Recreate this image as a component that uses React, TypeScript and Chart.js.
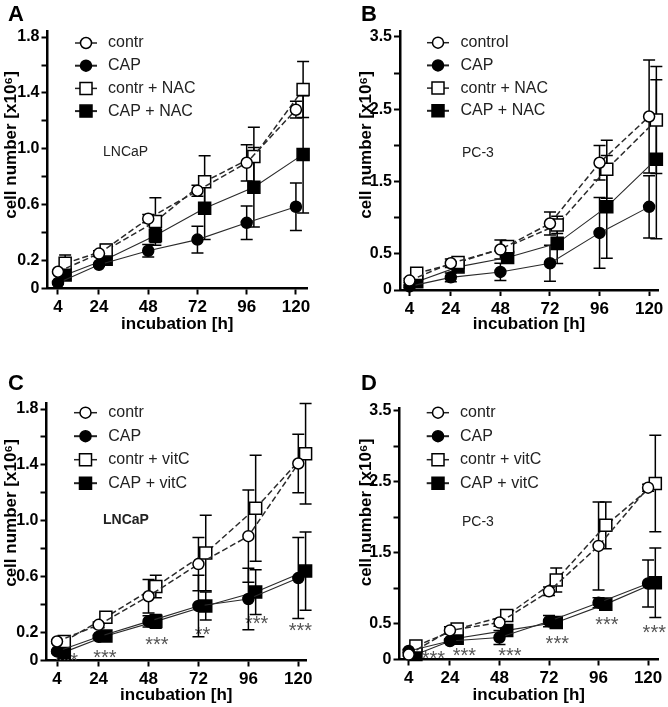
import React, { useEffect, useRef } from 'react';
import { Chart, registerables } from 'chart.js';

Chart.register(...registerables);

// ---------- data ----------
const TIMES = [4, 24, 48, 72, 96, 120];
const X_TICK_LABELS = ['4', '24', '48', '72', '96', '120'];
const Y_LABELS_LNCAP = ['0', '0.2', '0.6', '1.0', '1.4', '1.8'];
const Y_LABELS_PC3 = ['0', '0.5', '1.5', '2.5', '3.5'];

const LEGEND_A = ['contr', 'CAP', 'contr + NAC', 'CAP + NAC'];
const LEGEND_B = ['control', 'CAP', 'contr + NAC', 'CAP + NAC'];
const LEGEND_CD = ['contr', 'CAP', 'contr + vitC', 'CAP + vitC'];

// Panel A – LNCaP, NAC
const A_CONTR = [0.12, 0.25, 0.5, 0.7, 0.9, 1.28];
const A_CONTR_ERR = [0.01, 0.02, 0.03, 0.04, 0.13, 0.06];
const A_CAP = [0.04, 0.17, 0.27, 0.35, 0.47, 0.585];
const A_CAP_ERR = [0.01, 0.01, 0.045, 0.095, 0.12, 0.17];
const A_CONTR_NAC = [0.18, 0.275, 0.48, 0.765, 0.945, 1.425];
const A_CONTR_NAC_ERR = [0.06, 0.04, 0.17, 0.185, 0.21, 0.2];
const A_CAP_NAC = [0.097, 0.21, 0.38, 0.575, 0.725, 0.96];
const A_CAP_NAC_ERR = [0.02, 0.02, 0.05, 0.225, 0.285, 0.42];

// Panel B – PC-3, NAC
const B_CONTR = [0.13, 0.37, 0.56, 0.92, 1.76, 2.4];
const B_CONTR_ERR = [0.03, 0.06, 0.13, 0.16, 0.24, 0.78];
const B_CAP = [0.05, 0.175, 0.25, 0.37, 0.79, 1.15];
const B_CAP_ERR = [0.02, 0.06, 0.12, 0.25, 0.49, 0.43];
const B_CONTR_NAC = [0.23, 0.38, 0.6, 0.9, 1.67, 2.35];
const B_CONTR_NAC_ERR = [0.03, 0.06, 0.08, 0.12, 0.4, 0.74];
const B_CAP_NAC = [0.115, 0.32, 0.45, 0.645, 1.15, 1.81];
const B_CAP_NAC_ERR = [0.02, 0.06, 0.06, 0.28, 0.71, 1.1];

// Panel C – LNCaP, vitC
const C_CONTR = [0.136, 0.255, 0.46, 0.69, 0.89, 1.41];
const C_CONTR_ERR = [0.01, 0.02, 0.12, 0.19, 0.33, 0.21];
const C_CAP = [0.065, 0.17, 0.28, 0.39, 0.44, 0.59];
const C_CAP_ERR = [0.01, 0.01, 0.04, 0.22, 0.22, 0.29];
const C_CONTR_VITC = [0.136, 0.31, 0.53, 0.77, 1.09, 1.48];
const C_CONTR_VITC_ERR = [0.01, 0.02, 0.08, 0.27, 0.38, 0.36];
const C_CAP_VITC = [0.06, 0.175, 0.28, 0.39, 0.49, 0.64];
const C_CAP_VITC_ERR = [0.01, 0.01, 0.05, 0.1, 0.16, 0.28];
const C_SIG = ['***', '***', '***', '**', '***', '***'];
const C_SIG_X = [8.5, 27, 52, 74, 100, 121];
const C_SIG_Y = [0.04, 0.06, 0.15, 0.22, 0.3, 0.25];

// Panel D – PC-3, vitC
const D_CONTR = [0.07, 0.41, 0.52, 0.96, 1.6, 2.42];
const D_CONTR_ERR = [0.02, 0.05, 0.05, 0.06, 0.62, 0.05];
const D_CAP = [0.12, 0.26, 0.31, 0.54, 0.8, 1.07];
const D_CAP_ERR = [0.02, 0.03, 0.1, 0.08, 0.07, 0.33];
const D_CONTR_VITC = [0.19, 0.43, 0.62, 1.12, 1.89, 2.48];
const D_CONTR_VITC_ERR = [0.02, 0.04, 0.08, 0.17, 0.33, 0.68];
const D_CAP_VITC = [0.07, 0.3, 0.41, 0.52, 0.78, 1.08];
const D_CAP_VITC_ERR = [0.02, 0.03, 0.04, 0.04, 0.05, 0.49];
const D_SIG = ['***', '***', '***', '***', '***', '***'];
const D_SIG_X = [16, 31, 53, 76, 100, 123];
const D_SIG_Y = [0.09, 0.13, 0.13, 0.3, 0.57, 0.45];

// ---------- styling / layout ----------
const FONT = '"Liberation Sans", Arial, Helvetica, sans-serif';
const SQUARE_SHIFT = 3.5; // squares are drawn slightly right of their time point
const Y_TITLE = 'cell number [x10\u2076]';
const X_TITLE = 'incubation [h]';

// series style by index: open circle dashed, filled circle solid, open square dashed, filled square solid
const STYLES = [
  { square: false, open: true, dashed: true },
  { square: false, open: false, dashed: false },
  { square: true, open: true, dashed: true },
  { square: true, open: false, dashed: false },
];

const PANELS: any[] = [
  {
    letter: 'A', cell: 'LNCaP', cellBold: false, labels: LEGEND_A,
    values: [A_CONTR, A_CAP, A_CONTR_NAC, A_CAP_NAC],
    errors: [A_CONTR_ERR, A_CAP_ERR, A_CONTR_NAC_ERR, A_CAP_NAC_ERR],
    yLabels: Y_LABELS_LNCAP, yStep: 0.2, yMax: 1.84, xMin: -1.1, xMax: 125.4,
    box: { left: 0, top: 0, width: 334, height: 340 },
    area: { left: 47.5, top: 31.5, right: 307, bottom: 288.5 },
    letterPos: [8, 20.5], yTitle: [11, 145], xTitleY: 324,
    legend: { y: 43, dy: 22.7, x0: 75, x1: 97, xm: 86, xt: 108 },
    cellPos: [103, 152.5],
  },
  {
    letter: 'B', cell: 'PC-3', cellBold: false, labels: LEGEND_B,
    values: [B_CONTR, B_CAP, B_CONTR_NAC, B_CAP_NAC],
    errors: [B_CONTR_ERR, B_CAP_ERR, B_CONTR_NAC_ERR, B_CAP_NAC_ERR],
    yLabels: Y_LABELS_PC3, yStep: 0.5, yMax: 3.573, xMin: -0.6, xMax: 124.3,
    box: { left: 356, top: 0, width: 312, height: 340 },
    area: { left: 400, top: 31.7, right: 659, bottom: 290 },
    letterPos: [361, 20.5], yTitle: [366, 145], xTitleY: 324,
    legend: { y: 42.7, dy: 22.7, x0: 427, x1: 449, xm: 438, xt: 460.5 },
    cellPos: [462, 153.3],
  },
  {
    letter: 'C', cell: 'LNCaP', cellBold: true, labels: LEGEND_CD,
    values: [C_CONTR, C_CAP, C_CONTR_VITC, C_CAP_VITC],
    errors: [C_CONTR_ERR, C_CAP_ERR, C_CONTR_VITC_ERR, C_CAP_VITC_ERR],
    sig: C_SIG, sigX: C_SIG_X, sigY: C_SIG_Y,
    yLabels: Y_LABELS_LNCAP, yStep: 0.2, yMax: 1.841, xMin: -1.05, xMax: 123.7,
    box: { left: 0, top: 340, width: 334, height: 367 },
    area: { left: 46.5, top: 403.3, right: 306, bottom: 660.5 },
    letterPos: [8, 390], yTitle: [11, 513], xTitleY: 695.5,
    legend: { y: 412.7, dy: 23.5, x0: 74, x1: 97, xm: 85.5, xt: 108.3 },
    cellPos: [103, 520],
  },
  {
    letter: 'D', cell: 'PC-3', cellBold: false, labels: LEGEND_CD,
    values: [D_CONTR, D_CAP, D_CONTR_VITC, D_CAP_VITC],
    errors: [D_CONTR_ERR, D_CAP_ERR, D_CONTR_VITC_ERR, D_CAP_VITC_ERR],
    sig: D_SIG, sigX: D_SIG_X, sigY: D_SIG_Y,
    yLabels: Y_LABELS_PC3, yStep: 0.5, yMax: 3.538, xMin: -0.44, xMax: 124.8,
    box: { left: 356, top: 340, width: 312, height: 367 },
    area: { left: 399.5, top: 408.3, right: 659, bottom: 659.5 },
    letterPos: [361, 390], yTitle: [366, 512.5], xTitleY: 695,
    legend: { y: 412.7, dy: 23.5, x0: 426.7, x1: 449, xm: 438, xt: 460 },
    cellPos: [462, 521.7],
  },
];

const CIRCLE_R = 5.5;
const SQUARE_R = 8.5;

function drawMarker(ctx: CanvasRenderingContext2D, st: any, x: number, y: number) {
  ctx.beginPath();
  if (st.square) {
    const h = SQUARE_R * Math.SQRT1_2;
    ctx.rect(x - h, y - h, 2 * h, 2 * h);
  } else {
    ctx.arc(x, y, CIRCLE_R, 0, Math.PI * 2);
  }
  ctx.fillStyle = st.open ? '#fff' : '#000';
  ctx.fill();
  ctx.lineWidth = 1.5;
  ctx.strokeStyle = '#000';
  ctx.stroke();
}

function makeDecor(p: any) {
  return {
    id: 'decor' + p.letter,
    beforeDatasetsDraw(chart: any) {
      const ctx: CanvasRenderingContext2D = chart.ctx;
      const xs = chart.scales.x;
      const ys = chart.scales.y;
      ctx.save();
      if (p.sig) {
        const fs = 20;
        ctx.fillStyle = '#555';
        ctx.font = `${fs}px ${FONT}`;
        ctx.textAlign = 'center';
        ctx.textBaseline = 'alphabetic';
        p.sig.forEach((s: string, j: number) => {
          const x = xs.getPixelForValue(p.sigX[j]);
          const y = ys.getPixelForValue(p.sigY[j]);
          ctx.fillText(s, x, y + fs * 0.58);
        });
      }
      ctx.strokeStyle = '#000';
      ctx.lineWidth = 1.5;
      p.values.forEach((vals: number[], i: number) => {
        const meta = chart.getDatasetMeta(i);
        vals.forEach((v: number, j: number) => {
          const e = p.errors[i][j];
          if (!e) return;
          const x = meta.data[j].x;
          const yt = ys.getPixelForValue(v + e);
          const yb = ys.getPixelForValue(Math.max(0, v - e));
          ctx.beginPath();
          ctx.moveTo(x, yt);
          ctx.lineTo(x, yb);
          ctx.moveTo(x - 6, yt);
          ctx.lineTo(x + 6, yt);
          ctx.moveTo(x - 6, yb);
          ctx.lineTo(x + 6, yb);
          ctx.stroke();
        });
      });
      ctx.restore();
    },
    afterDraw(chart: any) {
      const ctx: CanvasRenderingContext2D = chart.ctx;
      const bx = p.box.left;
      const by = p.box.top;
      const ca = chart.chartArea;
      ctx.save();
      // panel letter
      ctx.fillStyle = '#000';
      ctx.font = `bold 22px ${FONT}`;
      ctx.textAlign = 'left';
      ctx.textBaseline = 'alphabetic';
      ctx.fillText(p.letter, p.letterPos[0] - bx, p.letterPos[1] - by);
      // axis titles
      ctx.font = `bold 17px ${FONT}`;
      ctx.textAlign = 'center';
      ctx.textBaseline = 'middle';
      ctx.fillText(X_TITLE, (ca.left + ca.right) / 2, p.xTitleY - by);
      ctx.save();
      ctx.translate(p.yTitle[0] - bx, p.yTitle[1] - by);
      ctx.rotate(-Math.PI / 2);
      ctx.fillText(Y_TITLE, 0, 0);
      ctx.restore();
      // legend
      const lg = p.legend;
      p.labels.forEach((lab: string, i: number) => {
        const st = STYLES[i];
        const y = lg.y + i * lg.dy - by;
        ctx.beginPath();
        ctx.strokeStyle = '#222';
        ctx.lineWidth = st.dashed ? 1.5 : 2;
        ctx.moveTo(lg.x0 - bx, y);
        ctx.lineTo(lg.x1 - bx, y);
        ctx.stroke();
        drawMarker(ctx, st, lg.xm - bx, y);
        ctx.fillStyle = '#222';
        ctx.font = `16px ${FONT}`;
        ctx.textAlign = 'left';
        ctx.textBaseline = 'middle';
        ctx.fillText(lab, lg.xt - bx, y);
      });
      // cell line label
      ctx.fillStyle = '#222';
      ctx.font = `${p.cellBold ? 'bold ' : ''}14px ${FONT}`;
      ctx.textAlign = 'left';
      ctx.textBaseline = 'middle';
      ctx.fillText(p.cell, p.cellPos[0] - bx, p.cellPos[1] - by);
      ctx.restore();
    },
  };
}

function buildConfig(p: any): any {
  const datasets = p.values.map((vals: number[], i: number) => {
    const st = STYLES[i];
    const shift = st.square ? SQUARE_SHIFT : 0;
    return {
      label: p.labels[i],
      data: vals.map((v, j) => ({ x: TIMES[j] + shift, y: v })),
      borderColor: '#2a2a2a',
      borderWidth: st.dashed ? 1.5 : 1.1,
      borderDash: st.dashed ? [6, 3] : [],
      pointStyle: st.square ? 'rect' : 'circle',
      pointRadius: st.square ? SQUARE_R : CIRCLE_R,
      pointBackgroundColor: st.open ? '#fff' : '#000',
      pointBorderColor: '#000',
      pointBorderWidth: 1.5,
      tension: 0,
      fill: false,
      clip: false,
    };
  });
  const yTicks: number[] = [];
  for (let k = 0; k * p.yStep <= p.yMax + 1e-9; k++) yTicks.push(Math.round(k * p.yStep * 1000) / 1000);
  const yWidth = p.area.left - p.box.left;
  const xHeight = p.box.top + p.box.height - p.area.bottom;
  return {
    type: 'line',
    data: { datasets },
    options: {
      responsive: false,
      animation: false,
      events: [],
      layout: {
        padding: {
          left: 0,
          top: p.area.top - p.box.top,
          right: p.box.left + p.box.width - p.area.right,
          bottom: 0,
        },
      },
      plugins: { legend: { display: false }, tooltip: { enabled: false }, title: { display: false } },
      scales: {
        x: {
          type: 'linear',
          min: p.xMin,
          max: p.xMax,
          bounds: 'data',
          afterBuildTicks: (s: any) => { s.ticks = TIMES.map((v) => ({ value: v })); },
          afterFit: (s: any) => { s.height = xHeight; },
          ticks: {
            autoSkip: false,
            maxRotation: 0,
            padding: 3,
            color: '#000',
            font: { family: FONT, size: 17, weight: 'bold' },
            callback: (_v: any, i: number) => X_TICK_LABELS[i],
          },
          grid: { display: true, drawOnChartArea: false, drawTicks: true, tickLength: 6, tickWidth: 2, tickColor: '#000' },
          border: { display: true, color: '#000', width: 2.5 },
        },
        y: {
          type: 'linear',
          min: 0,
          max: p.yMax,
          bounds: 'data',
          afterBuildTicks: (s: any) => { s.ticks = yTicks.map((v) => ({ value: v })); },
          afterFit: (s: any) => { s.width = yWidth; },
          ticks: {
            autoSkip: false,
            padding: 2,
            color: '#000',
            font: { family: FONT, size: 16, weight: 'bold' },
            callback: (v: any) => {
              const lab = p.yLabels.find((l: string) => Math.abs(parseFloat(l) - v) < 1e-6);
              return lab === undefined ? '' : lab;
            },
          },
          grid: { display: true, drawOnChartArea: false, drawTicks: true, tickLength: 6, tickWidth: 2, tickColor: '#000' },
          border: { display: true, color: '#000', width: 2.5 },
        },
      },
    },
    plugins: [makeDecor(p)],
  };
}

function Panel({ p }: { p: any }) {
  const ref = useRef<HTMLCanvasElement | null>(null);
  useEffect(() => {
    if (!ref.current) return;
    const chart = new Chart(ref.current, buildConfig(p));
    return () => chart.destroy();
  }, [p]);
  return (
    <canvas
      ref={ref}
      width={p.box.width}
      height={p.box.height}
      style={{ position: 'absolute', left: p.box.left, top: p.box.top, width: p.box.width, height: p.box.height }}
    />
  );
}

export default function App() {
  return (
    <div style={{ position: 'fixed', left: 0, top: 0, width: 668, height: 707, background: '#fff', overflow: 'hidden' }}>
      {PANELS.map((p) => (
        <Panel key={p.letter} p={p} />
      ))}
    </div>
  );
}
